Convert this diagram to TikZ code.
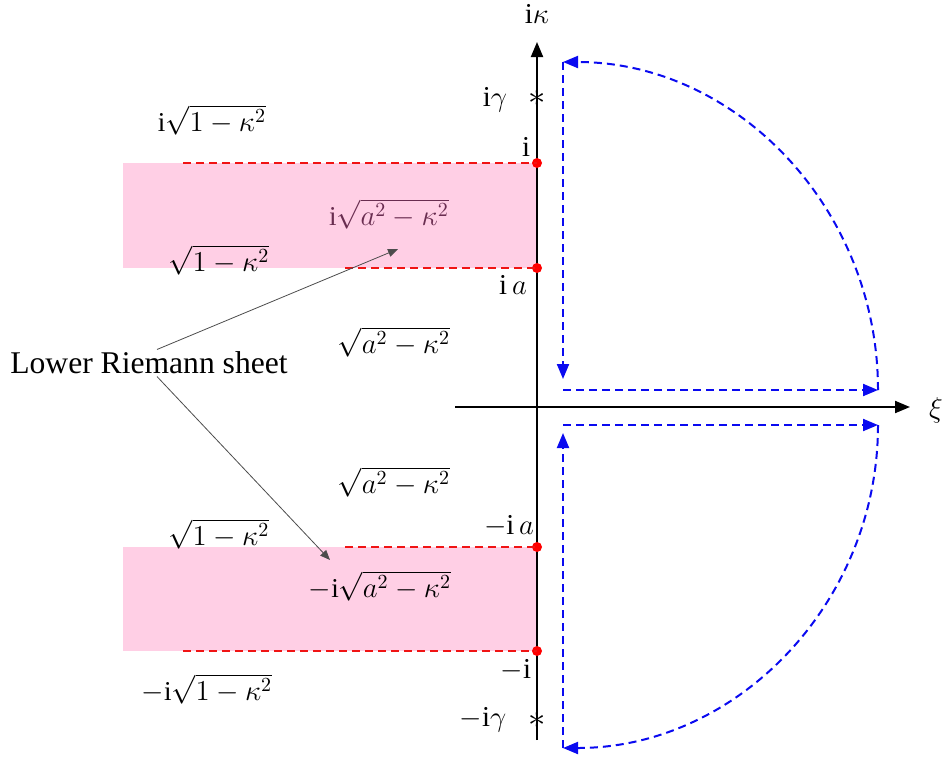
\documentclass[tikz,border=0pt]{standalone}
\usepackage{amsmath}
\usepackage{fontspec}
\setmainfont{Liberation Serif}
\usetikzlibrary{arrows.meta}

\definecolor{sheetpink}{RGB}{255,207,229}
\definecolor{cutred}{RGB}{240,20,20}
\definecolor{pathblue}{RGB}{10,10,240}
\definecolor{shadetext}{RGB}{105,45,80}

\begin{document}
\begin{tikzpicture}[x=0.5pt, y=-0.5pt,
  every node/.style={font=\fontsize{14.4}{17}\selectfont, inner sep=1pt},
  root/.style={font=\fontsize{13.6}{16}\selectfont},
  axis/.style={line width=1pt, -{Triangle[length=7.5pt,width=6pt]}},
  cut/.style={cutred, line width=0.8pt, dash pattern=on 4pt off 2.5pt},
  branch/.style={circle, fill=red, inner sep=0pt, minimum size=5pt},
  contour/.style={pathblue, line width=1pt, dash pattern=on 4pt off 2.5pt,
    -{Triangle[length=7.5pt,width=6pt]}},
  pointer/.style={black!70, line width=0.4pt, -{Triangle[length=5pt,width=4pt]}}]
  \useasboundingbox (0,0) rectangle (946,761);

  % shaded strips
  \fill[sheetpink] (123,163) rectangle (537,268);
  \fill[sheetpink] (123,547) rectangle (537,651);

  % cuts
  \coordinate (cutA) at (183,163);
  \coordinate (cutB) at (345,268);
  \coordinate (cutC) at (345,547);
  \coordinate (cutD) at (183,651);

  % axes
  \coordinate (origin) at (537,407);
  \coordinate (kbot) at (537,740);
  \coordinate (ktop) at (537,42);
  \coordinate (xleft) at (455,407);
  \coordinate (xright) at (910,407);
  \draw[axis] (kbot) -- (ktop);
  \draw[axis] (xleft) -- (xright);
  \node (kappa) at (537,14) {i$\kappa$};
  \node (xi) at (936,410) {$\xi$};

  % branch points
  \node[branch] (pi) at (537,163) {};
  \node[branch] (pa) at (537,268) {};
  \node[branch] (ma) at (537,547) {};
  \node[branch] (mi) at (537,651) {};
  \draw[cut] (cutA) -- (pi.center);
  \draw[cut] (cutB) -- (pa.center);
  \draw[cut] (cutC) -- (ma.center);
  \draw[cut] (cutD) -- (mi.center);

  % poles
  \node[font=\fontsize{18}{20}\selectfont] (starup) at (537,98) {$\ast$};
  \node[font=\fontsize{18}{20}\selectfont] (stardn) at (537,720) {$\ast$};
  \node (gup) at (495,100) {i$\gamma$};
  \node (gdn) at (483,720) {$-$i$\gamma$};
  \node (li) at (526,147) {i};
  \node (la) at (513,285) {i\,$a$};
  \node (lma) at (509,526) {$-$i\,$a$};
  \node (lmi) at (516,670) {$-$i};

  % square roots on the sheets
  \node[root] (r1) at (212,120) {$\mathrm{i}\sqrt{1-\kappa^2}$};
  \node[root] (r2) at (219,260) {$\sqrt{1-\kappa^2}$};
  \node[root, text=shadetext] (r3) at (389,214) {$\mathrm{i}\sqrt{a^2-\kappa^2}$};
  \node[root] (r4) at (394,342) {$\sqrt{a^2-\kappa^2}$};
  \node[root] (r5) at (394,482) {$\sqrt{a^2-\kappa^2}$};
  \node[root] (r6) at (219,534) {$\sqrt{1-\kappa^2}$};
  \node[root] (r7) at (380,586) {$-\mathrm{i}\sqrt{a^2-\kappa^2}$};
  \node[root] (r8) at (207,689) {$-\mathrm{i}\sqrt{1-\kappa^2}$};

  % lower sheet pointers
  \node[font=\fontsize{15.8}{18}\selectfont] (sheet) at (149,363) {Lower Riemann sheet};
  \coordinate (tipup) at (398,249);
  \coordinate (tipdn) at (330,560);
  \draw[pointer] ([xshift=4pt]sheet.north) -- (tipup);
  \draw[pointer] ([xshift=4pt]sheet.south) -- (tipdn);

  % contours
  \coordinate (ua) at (878,390);
  \coordinate (ub) at (563,62);
  \coordinate (uc) at (563,379);
  \coordinate (ud) at (563,390);
  \coordinate (la2) at (878,425);
  \coordinate (lb) at (563,748);
  \coordinate (lc) at (563,433);
  \coordinate (ld) at (563,425);
  \draw[contour] (ua) .. controls (878,209) and (737,62) .. (ub);
  \draw[contour] (ub) -- (uc);
  \draw[contour] (ud) -- (ua);
  \draw[contour] (la2) .. controls (878,603) and (737,748) .. (lb);
  \draw[contour] (lb) -- (lc);
  \draw[contour] (ld) -- (la2);
\end{tikzpicture}
\end{document}
